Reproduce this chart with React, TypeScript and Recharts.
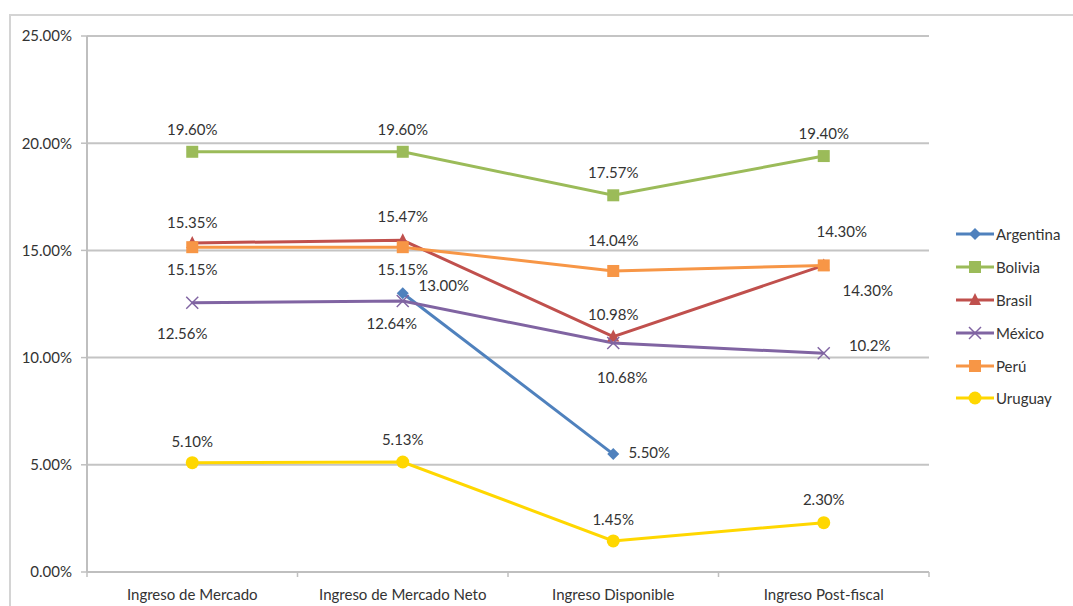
import React from 'react';
import { LineChart, Line, XAxis, YAxis, CartesianGrid } from 'recharts';

const CATEGORIES = ['Ingreso de Mercado', 'Ingreso de Mercado Neto', 'Ingreso Disponible', 'Ingreso Post-fiscal'];
const Y_TICKS = [0, 5, 10, 15, 20, 25];

// percentages per income concept
const ARGENTINA = [null, 13.0, 5.5, null];
const BOLIVIA = [19.6, 19.6, 17.57, 19.4];
const BRASIL = [15.35, 15.47, 10.98, 14.3];
const MEXICO = [12.56, 12.64, 10.68, 10.2];
const PERU = [15.15, 15.15, 14.04, 14.3];
const URUGUAY = [5.1, 5.13, 1.45, 2.3];

type Shape = 'diamond' | 'square' | 'triangle' | 'x' | 'circle';

// label placement [dx, dy] relative to each point
const SERIES: Array<{ key: string; name: string; color: string; shape: Shape; values: (number | null)[]; labelPos: [number, number][]; digits?: number[] }> = [
  { key: 'arg', name: 'Argentina', color: '#4f81bd', shape: 'diamond', values: ARGENTINA, labelPos: [[0, 0], [41, -8], [36, -2], [0, 0]] },
  { key: 'bol', name: 'Bolivia', color: '#9bbb59', shape: 'square', values: BOLIVIA, labelPos: [[0, -23], [0, -23], [0, -23], [0, -23]] },
  { key: 'bra', name: 'Brasil', color: '#c0504d', shape: 'triangle', values: BRASIL, labelPos: [[0, -21], [0, -24], [0, -23], [44, 25]] },
  { key: 'mex', name: 'México', color: '#8064a2', shape: 'x', values: MEXICO, labelPos: [[-10, 30], [-11, 22], [9, 34], [46, -8]], digits: [2, 2, 2, 1] },
  { key: 'per', name: 'Perú', color: '#f79646', shape: 'square', values: PERU, labelPos: [[0, 22], [0, 22], [0, -31], [18, -34]] },
  { key: 'uru', name: 'Uruguay', color: '#ffd700', shape: 'circle', values: URUGUAY, labelPos: [[0, -22], [0, -23], [0, -22], [0, -24]] },
];

const data = CATEGORIES.map((c, i) => {
  const row: Record<string, string | number | null> = { cat: c };
  SERIES.forEach((s) => { row[s.key] = s.values[i]; });
  return row;
});

const FONT = 'Lato, "Open Sans", sans-serif';
const FS = 15;
const PLOT_W = 842;
const HALF_BAND = PLOT_W / CATEGORIES.length / 2;

function Marker({ cx, cy, shape, color }: { cx: number; cy: number; shape: Shape; color: string }) {
  switch (shape) {
    case 'diamond':
      return <polygon points={`${cx},${cy - 6} ${cx + 6},${cy} ${cx},${cy + 6} ${cx - 6},${cy}`} fill={color} />;
    case 'square':
      return <rect x={cx - 6} y={cy - 6} width={12} height={12} fill={color} />;
    case 'triangle':
      return <polygon points={`${cx},${cy - 7} ${cx + 6},${cy + 5} ${cx - 6},${cy + 5}`} fill={color} />;
    case 'x':
      return (
        <g stroke={color} strokeWidth={1.5}>
          <line x1={cx - 6} y1={cy - 6} x2={cx + 6} y2={cy + 6} />
          <line x1={cx - 6} y1={cy + 6} x2={cx + 6} y2={cy - 6} />
        </g>
      );
    default:
      return <circle cx={cx} cy={cy} r={6.5} fill={color} />;
  }
}

function makeDot(s: (typeof SERIES)[number]) {
  return (p: any) => {
    const { cx, cy, index, value } = p;
    if (cx == null || cy == null || value == null || Number.isNaN(cy)) return <g key={`${s.key}-${index}`} />;
    const [dx, dy] = s.labelPos[index];
    const digits = s.digits ? s.digits[index] : 2;
    const v = Array.isArray(value) ? value[1] : value;
    return (
      <g key={`${s.key}-${index}`}>
        <Marker cx={cx} cy={cy} shape={s.shape} color={s.color} />
        <text x={cx + dx} y={cy + dy} textAnchor="middle" dominantBaseline="central" fontSize={FS} fill="#333" fontFamily={FONT}>
          {`${Number(v).toFixed(digits)}%`}
        </text>
      </g>
    );
  };
}

function XTick(props: any) {
  const { x, y, payload, index } = props;
  return (
    <g>
      <line x1={x - HALF_BAND} y1={y} x2={x - HALF_BAND} y2={y + 5} stroke="#bfbfbf" strokeWidth={1.5} />
      {index === CATEGORIES.length - 1 && (
        <line x1={x + HALF_BAND} y1={y} x2={x + HALF_BAND} y2={y + 5} stroke="#bfbfbf" strokeWidth={1.5} />
      )}
      <text x={x} y={y + 22} textAnchor="middle" dominantBaseline="central" fontSize={FS} fill="#333" fontFamily={FONT}>
        {payload.value}
      </text>
    </g>
  );
}

function LegendIcon({ shape, color }: { shape: Shape; color: string }) {
  return (
    <svg width={38} height={14} style={{ display: 'block' }}>
      <line x1={0} y1={7} x2={38} y2={7} stroke={color} strokeWidth={3} />
      <Marker cx={19} cy={7} shape={shape} color={color} />
    </svg>
  );
}

export default function App() {
  return (
    <div style={{ position: 'absolute', left: 0, top: 0, width: 1073, height: 606, overflow: 'hidden', background: '#fff', fontFamily: FONT }}>
      <div style={{ position: 'absolute', left: 9, top: 14, width: 1100, height: 700, border: '2px solid #d4d4d4', boxSizing: 'border-box' }} />
      <div style={{ position: 'absolute', left: 0, top: 0 }}>
        <LineChart width={1073} height={606} data={data} margin={{ top: 36, right: 144, bottom: 0, left: 10 }}>
          <CartesianGrid vertical={false} stroke="#c4c4c4" strokeWidth={2} />
          <XAxis
            dataKey="cat"
            height={34}
            tickSize={0}
            tickMargin={0}
            tickLine={false}
            tick={<XTick />}
            axisLine={{ stroke: '#bfbfbf', strokeWidth: 2 }}
            interval={0}
            padding={{ left: HALF_BAND, right: HALF_BAND }}
          />
          <YAxis
            domain={[0, 25]}
            ticks={Y_TICKS}
            width={77}
            tickSize={6}
            tickMargin={9}
            tickFormatter={(v) => `${Number(v).toFixed(2)}%`}
            tick={{ fontSize: FS, fill: '#333', fontFamily: FONT }}
            tickLine={{ stroke: '#bfbfbf', strokeWidth: 1.5 }}
            axisLine={{ stroke: '#bfbfbf', strokeWidth: 2 }}
          />
          {SERIES.map((s) => (
            <Line
              key={s.key}
              dataKey={s.key}
              name={s.name}
              stroke={s.color}
              strokeWidth={3}
              type="linear"
              dot={makeDot(s)}
              activeDot={false}
              connectNulls={false}
              isAnimationActive={false}
            />
          ))}
        </LineChart>
      </div>
      <div style={{ position: 'absolute', left: 956, top: 218 }}>
        {SERIES.map((s) => (
          <div key={s.key} style={{ display: 'flex', alignItems: 'center', height: 32.8, fontSize: FS, color: '#333' }}>
            <LegendIcon shape={s.shape} color={s.color} />
            <span style={{ marginLeft: 2 }}>{s.name}</span>
          </div>
        ))}
      </div>
    </div>
  );
}
